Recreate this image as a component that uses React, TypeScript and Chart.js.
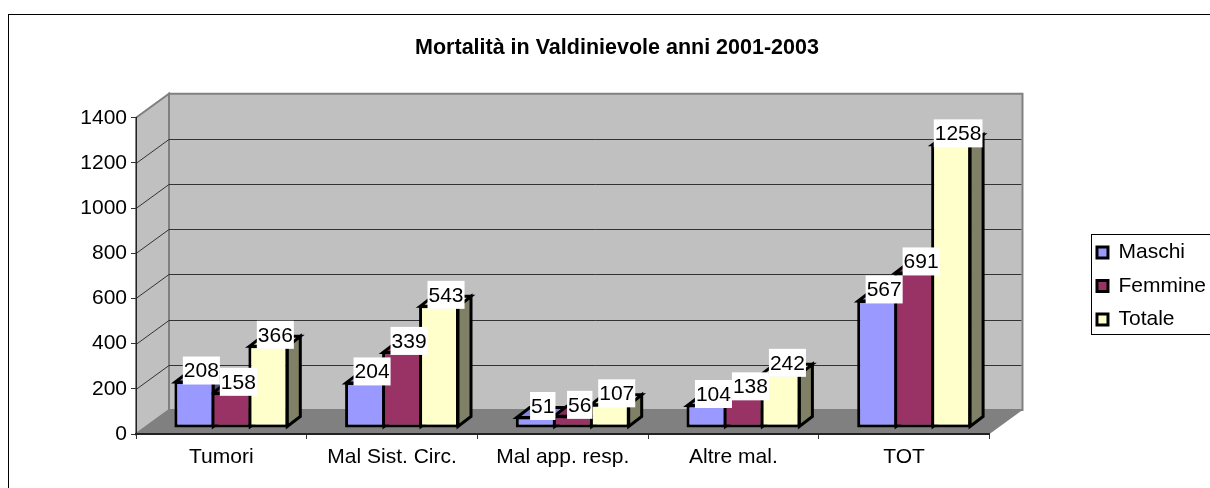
import React, { useEffect, useRef } from "react";
import { Chart, registerables } from "chart.js";

Chart.register(...registerables);

const categories = ["Tumori", "Mal Sist. Circ.", "Mal app. resp.", "Altre mal.", "TOT"];
const maschi = [208, 204, 51, 104, 567];
const femmine = [158, 339, 56, 138, 691];
const totale = [366, 543, 107, 242, 1258];
const seriesNames = ["Maschi", "Femmine", "Totale"];
const chartTitle = "Mortalità in Valdinievole anni 2001-2003";
const yMax = 1400;
const yStep = 200;

const FONT = "'Liberation Sans', Arial, sans-serif";
const FS = 21;
const WALL_DX = 33;
const WALL_DY = 24;
const BAR_DX = 10;
const BAR_DY = 6;
const DEPTH_DX = 13;
const DEPTH_DY = 10;
const EDGE = 3;

const fronts = ["#9999FF", "#993366", "#FFFFCC"];
const sides = ["#4D4D80", "#4D1A33", "#808066"];
const tops = ["#8585DD", "#852C59", "#DDDDB0"];

const poly = (ctx: CanvasRenderingContext2D, pts: number[][], fill: string, stroke?: string, lw = 2) => {
  ctx.beginPath();
  pts.forEach((p, i) => (i ? ctx.lineTo(p[0], p[1]) : ctx.moveTo(p[0], p[1])));
  ctx.closePath();
  ctx.fillStyle = fill;
  ctx.fill();
  if (stroke) {
    ctx.strokeStyle = stroke;
    ctx.lineWidth = lw;
    ctx.lineJoin = "miter";
    ctx.stroke();
  }
};

const scene3d = {
  id: "scene3d",
  beforeDraw(chart: any) {
    const { ctx, chartArea: a, scales } = chart;
    ctx.save();
    ctx.fillStyle = "#FFFFFF";
    ctx.fillRect(0, 0, chart.width, chart.height);
    ctx.strokeStyle = "#000000";
    ctx.lineWidth = 1;
    ctx.strokeRect(8.5, 14.5, chart.width + 20, chart.height + 20);
    const l = a.left, r = a.right, t = a.top, b = a.bottom;
    poly(ctx, [[l + WALL_DX, t - WALL_DY], [r + WALL_DX, t - WALL_DY], [r + WALL_DX, b - WALL_DY], [l + WALL_DX, b - WALL_DY]], "#C0C0C0", "#808080");
    poly(ctx, [[l, b], [l, t], [l + WALL_DX, t - WALL_DY], [l + WALL_DX, b - WALL_DY]], "#C0C0C0", "#808080");
    poly(ctx, [[l, b], [r, b], [r + WALL_DX, b - WALL_DY], [l + WALL_DX, b - WALL_DY]], "#808080");
    ctx.strokeStyle = "#333333";
    ctx.lineWidth = 1;
    scales.y.ticks.forEach((tk: any) => {
      if (tk.value === 0 || tk.value === yMax) return;
      const y = Math.round(scales.y.getPixelForValue(tk.value)) + 0.5;
      ctx.beginPath();
      ctx.moveTo(l, y);
      ctx.lineTo(l + WALL_DX, y - WALL_DY);
      ctx.lineTo(r + WALL_DX - 1, y - WALL_DY);
      ctx.stroke();
    });
    ctx.restore();
  },
  beforeDatasetsDraw(chart: any) {
    const { ctx } = chart;
    ctx.save();
    ctx.translate(BAR_DX, -BAR_DY);
    chart.data.labels.forEach((_: string, i: number) => {
      chart.data.datasets.forEach((_d: any, d: number) => {
        const el = chart.getDatasetMeta(d).data[i];
        const x0 = el.x - el.width / 2 + 1, x1 = el.x + el.width / 2 - 1, y = el.y + 1, b = el.base - 1;
        poly(ctx, [[x1, y], [x1 + DEPTH_DX, y - DEPTH_DY], [x1 + DEPTH_DX, b - DEPTH_DY], [x1, b]], sides[d], "#000000", EDGE);
        poly(ctx, [[x0, y], [x0 + DEPTH_DX, y - DEPTH_DY], [x1 + DEPTH_DX, y - DEPTH_DY], [x1, y]], tops[d], "#000000", EDGE);
      });
    });
  },
  afterDatasetsDraw(chart: any) {
    const { ctx } = chart;
    ctx.restore();
    ctx.save();
    ctx.font = `${FS}px ${FONT}`;
    ctx.textAlign = "center";
    ctx.textBaseline = "middle";
    chart.data.datasets.forEach((ds: any, d: number) => {
      chart.getDatasetMeta(d).data.forEach((el: any, i: number) => {
        const text = String(ds.data[i]);
        const w = ctx.measureText(text).width + 2;
        const cx = el.x + BAR_DX + 7;
        const cy = el.y - BAR_DY - 10.5;
        ctx.fillStyle = "#FFFFFF";
        ctx.fillRect(cx - w / 2, cy - 14, w, 28);
        ctx.fillStyle = "#000000";
        ctx.fillText(text, cx, cy + 1);
      });
    });
    ctx.restore();
  },
  afterDraw(chart: any) {
    const { ctx, legend } = chart;
    const hb = legend.legendHitBoxes;
    ctx.save();
    ctx.strokeStyle = "#000000";
    ctx.lineWidth = 1;
    ctx.strokeRect(Math.round(hb[0].left) - 5.5, Math.round(hb[0].top) - 7.5, 140, 100);
    ctx.restore();
  },
};

export default function App() {
  const ref = useRef<HTMLCanvasElement>(null);
  useEffect(() => {
    document.body.style.margin = "0";
    const chart = new Chart(ref.current as HTMLCanvasElement, {
      type: "bar",
      data: {
        labels: categories,
        datasets: [maschi, femmine, totale].map((values, d) => ({
          label: seriesNames[d],
          data: values,
          backgroundColor: fronts[d],
          borderColor: "#000000",
          borderWidth: EDGE,
          borderSkipped: false,
          categoryPercentage: 0.65,
          barPercentage: 1.08,
          clip: false as any,
        })),
      },
      plugins: [scene3d],
      options: {
        responsive: false,
        animation: false,
        layout: { padding: { left: 18, right: -6, top: 0, bottom: -84 } },
        plugins: {
          title: {
            display: true,
            text: chartTitle,
            color: "#000000",
            font: { family: FONT, size: 21.5, weight: "bold" },
            padding: { top: 35, bottom: 57 },
          },
          legend: {
            position: "right",
            labels: {
              color: "#000000",
              font: { family: FONT, size: FS },
              boxWidth: 11,
              boxHeight: 11,
              padding: 12.5,
            },
          },
          tooltip: { enabled: false },
        },
        scales: {
          x: {
            grid: { drawOnChartArea: false, color: "#333333", tickLength: 5 },
            border: { color: "#222222", width: 2 },
            ticks: { color: "#000000", font: { family: FONT, size: FS }, padding: 6, maxRotation: 0 },
            afterFit: (s: any) => { s.height = 138; },
          },
          y: {
            min: 0,
            max: yMax,
            grid: { drawOnChartArea: false, color: "#333333", tickLength: 5 },
            border: { color: "#222222", width: 1 },
            ticks: { stepSize: yStep, color: "#000000", font: { family: FONT, size: FS }, padding: 4, callback: (v: any) => String(v) },
            afterFit: (s: any) => { s.width = 118; },
          },
          spacer: {
            position: "right",
            display: true,
            grid: { display: false },
            border: { display: false },
            ticks: { display: false },
            afterFit: (s: any) => { s.width = 95; },
          },
        },
      } as any,
    });
    return () => chart.destroy();
  }, []);
  return <canvas ref={ref} width={1210} height={488} style={{ display: "block" }} />;
}
